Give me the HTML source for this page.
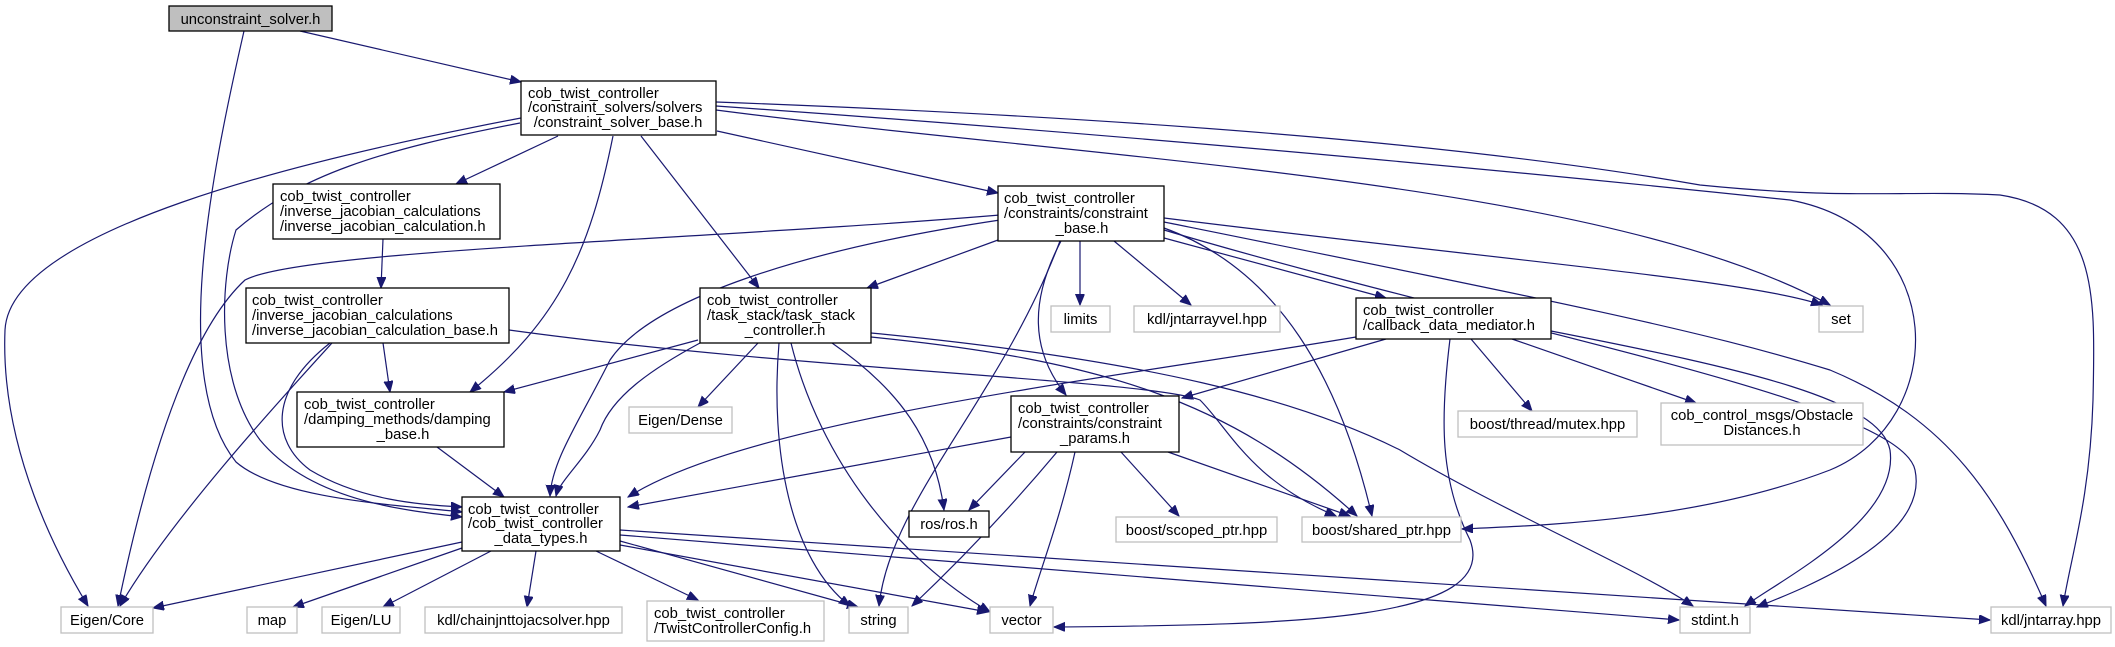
<!DOCTYPE html>
<html><head><meta charset="utf-8"><style>
html,body{margin:0;padding:0;background:#fff;}
svg{display:block;}
text{font-family:"Liberation Sans","DejaVu Sans",sans-serif;font-size:14.8px;fill:#000;}
.n{fill:#fff;stroke:#000;stroke-width:1.3;}
.l{fill:#fff;stroke:#bfbfbf;stroke-width:1.3;}
.e{fill:none;stroke:#191970;stroke-width:1.2;marker-end:url(#a);}
</style></head><body>
<svg width="2115" height="647" viewBox="0 0 2115 647" xmlns="http://www.w3.org/2000/svg">
<defs><marker id="a" markerUnits="userSpaceOnUse" markerWidth="12" markerHeight="10" refX="11" refY="4.5" orient="auto"><path d="M0,0 L11,4.5 L0,9 z" fill="#191970" stroke="#191970"/></marker></defs>
<g>
<path class="e" d="M300,31 L521,82"/>
<path class="e" d="M244,31 C210,180 170,380 236,462 C280,500 400,505 462,512"/>
<path class="e" d="M521,118 C300,160 10,230 5,330 C0,450 60,560 88,606"/>
<path class="e" d="M520,123 C380,150 300,175 236,230 C220,280 215,380 260,440 C310,500 400,510 462,517"/>
<path class="e" d="M558,136 L456,184"/>
<path class="e" d="M613,136 C590,250 560,320 470,392"/>
<path class="e" d="M641,136 L759,288"/>
<path class="e" d="M717,131 L998,193"/>
<path class="e" d="M716,110 C1100,160 1600,180 1830,305"/>
<path class="e" d="M716,106 C1200,140 1600,180 1790,200 C1950,230 1950,420 1830,470 C1700,520 1550,525 1462,529"/>
<path class="e" d="M716,102 C1200,120 1500,150 1700,185 C1850,200 1900,190 2000,195 C2100,210 2095,300 2093,400 C2090,500 2070,560 2063,606"/>
<path class="e" d="M1000,215 C700,240 300,250 245,280 C180,340 140,500 118,606"/>
<path class="e" d="M1000,220 C800,250 650,300 610,360 C580,420 552,460 550,496"/>
<path class="e" d="M998,240 L867,288"/>
<path class="e" d="M1060,241 C1000,400 890,500 879,606"/>
<path class="e" d="M1061,241 C1030,300 1030,350 1066,395"/>
<path class="e" d="M1080,241 L1080,305"/>
<path class="e" d="M1114,241 L1191,305"/>
<path class="e" d="M1164,238 L1386,298"/>
<path class="e" d="M1164,228 C1280,270 1340,380 1372,516"/>
<path class="e" d="M1164,218 C1500,260 1750,280 1822,305"/>
<path class="e" d="M1164,222 C1550,300 1700,330 1830,370 C1950,420 2000,500 2046,606"/>
<path class="e" d="M1164,230 C1500,330 1900,400 1915,470 C1930,540 1800,590 1757,607"/>
<path class="e" d="M698,340 L504,392"/>
<path class="e" d="M700,343 C650,370 612,397 600,430 C585,460 560,480 556,496"/>
<path class="e" d="M758,343 L698,407"/>
<path class="e" d="M779,343 C770,450 790,560 850,606"/>
<path class="e" d="M791,343 C820,460 900,560 990,612"/>
<path class="e" d="M832,343 C900,390 935,440 944,510"/>
<path class="e" d="M871,337 C1100,360 1230,400 1357,516"/>
<path class="e" d="M871,333 C1150,360 1300,400 1400,450 C1500,510 1640,570 1693,606"/>
<path class="e" d="M383,239 L381,288"/>
<path class="e" d="M383,343 L390,392"/>
<path class="e" d="M332,343 C280,400 170,520 120,606"/>
<path class="e" d="M330,343 C270,390 270,440 310,470 C360,500 420,505 462,507"/>
<path class="e" d="M509,330 C800,370 1150,380 1200,400 C1230,430 1250,480 1336,516"/>
<path class="e" d="M437,447 L504,497"/>
<path class="e" d="M1356,337 C1100,380 750,420 628,497"/>
<path class="e" d="M1386,339 L1182,398"/>
<path class="e" d="M1450,339 C1440,420 1440,480 1470,540 C1500,620 1300,625 1054,627"/>
<path class="e" d="M1471,339 L1532,411"/>
<path class="e" d="M1512,339 L1696,403"/>
<path class="e" d="M1551,331 C1750,370 1880,400 1890,450 C1900,520 1780,580 1745,606"/>
<path class="e" d="M1011,437 L628,507"/>
<path class="e" d="M1025,452 L969,510"/>
<path class="e" d="M1057,452 C1000,520 950,570 912,606"/>
<path class="e" d="M1075,452 C1060,520 1040,570 1030,606"/>
<path class="e" d="M1121,452 L1179,516"/>
<path class="e" d="M1168,452 L1350,516"/>
<path class="e" d="M462,542 L153,608"/>
<path class="e" d="M462,548 L293,607"/>
<path class="e" d="M491,551 L383,607"/>
<path class="e" d="M536,551 L527,607"/>
<path class="e" d="M596,551 L698,600"/>
<path class="e" d="M620,541 L858,607"/>
<path class="e" d="M620,545 L988,612"/>
<path class="e" d="M620,535 L1679,620"/>
<path class="e" d="M620,530 L1990,620"/>
</g>
<g>
<rect x="169" y="6" width="163" height="25" fill="#bfbfbf" stroke="#000" stroke-width="1.3"/>
<text x="250.5" y="24" text-anchor="middle">unconstraint_solver.h</text>

<rect class="n" x="521" y="81" width="195" height="54"/>
<text x="528" y="98">cob_twist_controller</text><text x="528" y="112">/constraint_solvers/solvers</text><text x="618" y="127" text-anchor="middle">/constraint_solver_base.h</text>

<rect class="n" x="273" y="184" width="227" height="55"/>
<text x="280" y="201">cob_twist_controller</text><text x="280" y="216">/inverse_jacobian_calculations</text><text x="280" y="231">/inverse_jacobian_calculation.h</text>

<rect class="n" x="246" y="288" width="263" height="55"/>
<text x="252" y="305">cob_twist_controller</text><text x="252" y="320">/inverse_jacobian_calculations</text><text x="252" y="335">/inverse_jacobian_calculation_base.h</text>

<rect class="n" x="700" y="288" width="171" height="55"/>
<text x="707" y="305">cob_twist_controller</text><text x="707" y="320">/task_stack/task_stack</text><text x="785" y="335" text-anchor="middle">_controller.h</text>

<rect class="n" x="998" y="186" width="166" height="55"/>
<text x="1004" y="203">cob_twist_controller</text><text x="1004" y="218">/constraints/constraint</text><text x="1082" y="233" text-anchor="middle">_base.h</text>

<rect class="n" x="297" y="392" width="207" height="55"/>
<text x="304" y="409">cob_twist_controller</text><text x="304" y="424">/damping_methods/damping</text><text x="403" y="439" text-anchor="middle">_base.h</text>

<rect class="l" x="629" y="407" width="103" height="26"/>
<text x="680.5" y="425" text-anchor="middle">Eigen/Dense</text>

<rect class="n" x="462" y="497" width="158" height="54"/>
<text x="468" y="514">cob_twist_controller</text><text x="468" y="528">/cob_twist_controller</text><text x="541" y="543" text-anchor="middle">_data_types.h</text>

<rect class="n" x="909" y="511" width="80" height="26"/>
<text x="949" y="529" text-anchor="middle">ros/ros.h</text>

<rect class="l" x="61" y="607" width="92" height="26"/><text x="107" y="625" text-anchor="middle">Eigen/Core</text>
<rect class="l" x="247" y="607" width="50" height="26"/><text x="272" y="625" text-anchor="middle">map</text>
<rect class="l" x="322" y="607" width="78" height="26"/><text x="361" y="625" text-anchor="middle">Eigen/LU</text>
<rect class="l" x="425" y="607" width="197" height="26"/><text x="523.5" y="625" text-anchor="middle">kdl/chainjnttojacsolver.hpp</text>
<rect class="l" x="647" y="601" width="177" height="40"/><text x="654" y="618">cob_twist_controller</text><text x="654" y="633">/TwistControllerConfig.h</text>
<rect class="l" x="849" y="607" width="59" height="26"/><text x="878.5" y="625" text-anchor="middle">string</text>
<rect class="l" x="990" y="607" width="63" height="26"/><text x="1021.5" y="625" text-anchor="middle">vector</text>
<rect class="l" x="1680" y="607" width="70" height="26"/><text x="1715" y="625" text-anchor="middle">stdint.h</text>
<rect class="l" x="1991" y="607" width="120" height="26"/><text x="2051" y="625" text-anchor="middle">kdl/jntarray.hpp</text>

<rect class="l" x="1051" y="306" width="59" height="26"/><text x="1080.5" y="324" text-anchor="middle">limits</text>
<rect class="l" x="1134" y="306" width="146" height="26"/><text x="1207" y="324" text-anchor="middle">kdl/jntarrayvel.hpp</text>
<rect class="n" x="1356" y="298" width="195" height="41"/><text x="1363" y="315">cob_twist_controller</text><text x="1363" y="330">/callback_data_mediator.h</text>
<rect class="l" x="1819" y="306" width="44" height="26"/><text x="1841" y="324" text-anchor="middle">set</text>

<rect class="n" x="1011" y="396" width="168" height="56"/>
<text x="1018" y="413">cob_twist_controller</text><text x="1018" y="428">/constraints/constraint</text><text x="1095" y="443" text-anchor="middle">_params.h</text>

<rect class="l" x="1458" y="411" width="179" height="26"/><text x="1547.5" y="429" text-anchor="middle">boost/thread/mutex.hpp</text>
<rect class="l" x="1661" y="403" width="202" height="42"/><text x="1762" y="420" text-anchor="middle">cob_control_msgs/Obstacle</text><text x="1762" y="435" text-anchor="middle">Distances.h</text>
<rect class="l" x="1116" y="517" width="161" height="25"/><text x="1196.5" y="535" text-anchor="middle">boost/scoped_ptr.hpp</text>
<rect class="l" x="1302" y="517" width="159" height="25"/><text x="1381.5" y="535" text-anchor="middle">boost/shared_ptr.hpp</text>
</g>
</svg>
</body></html>
